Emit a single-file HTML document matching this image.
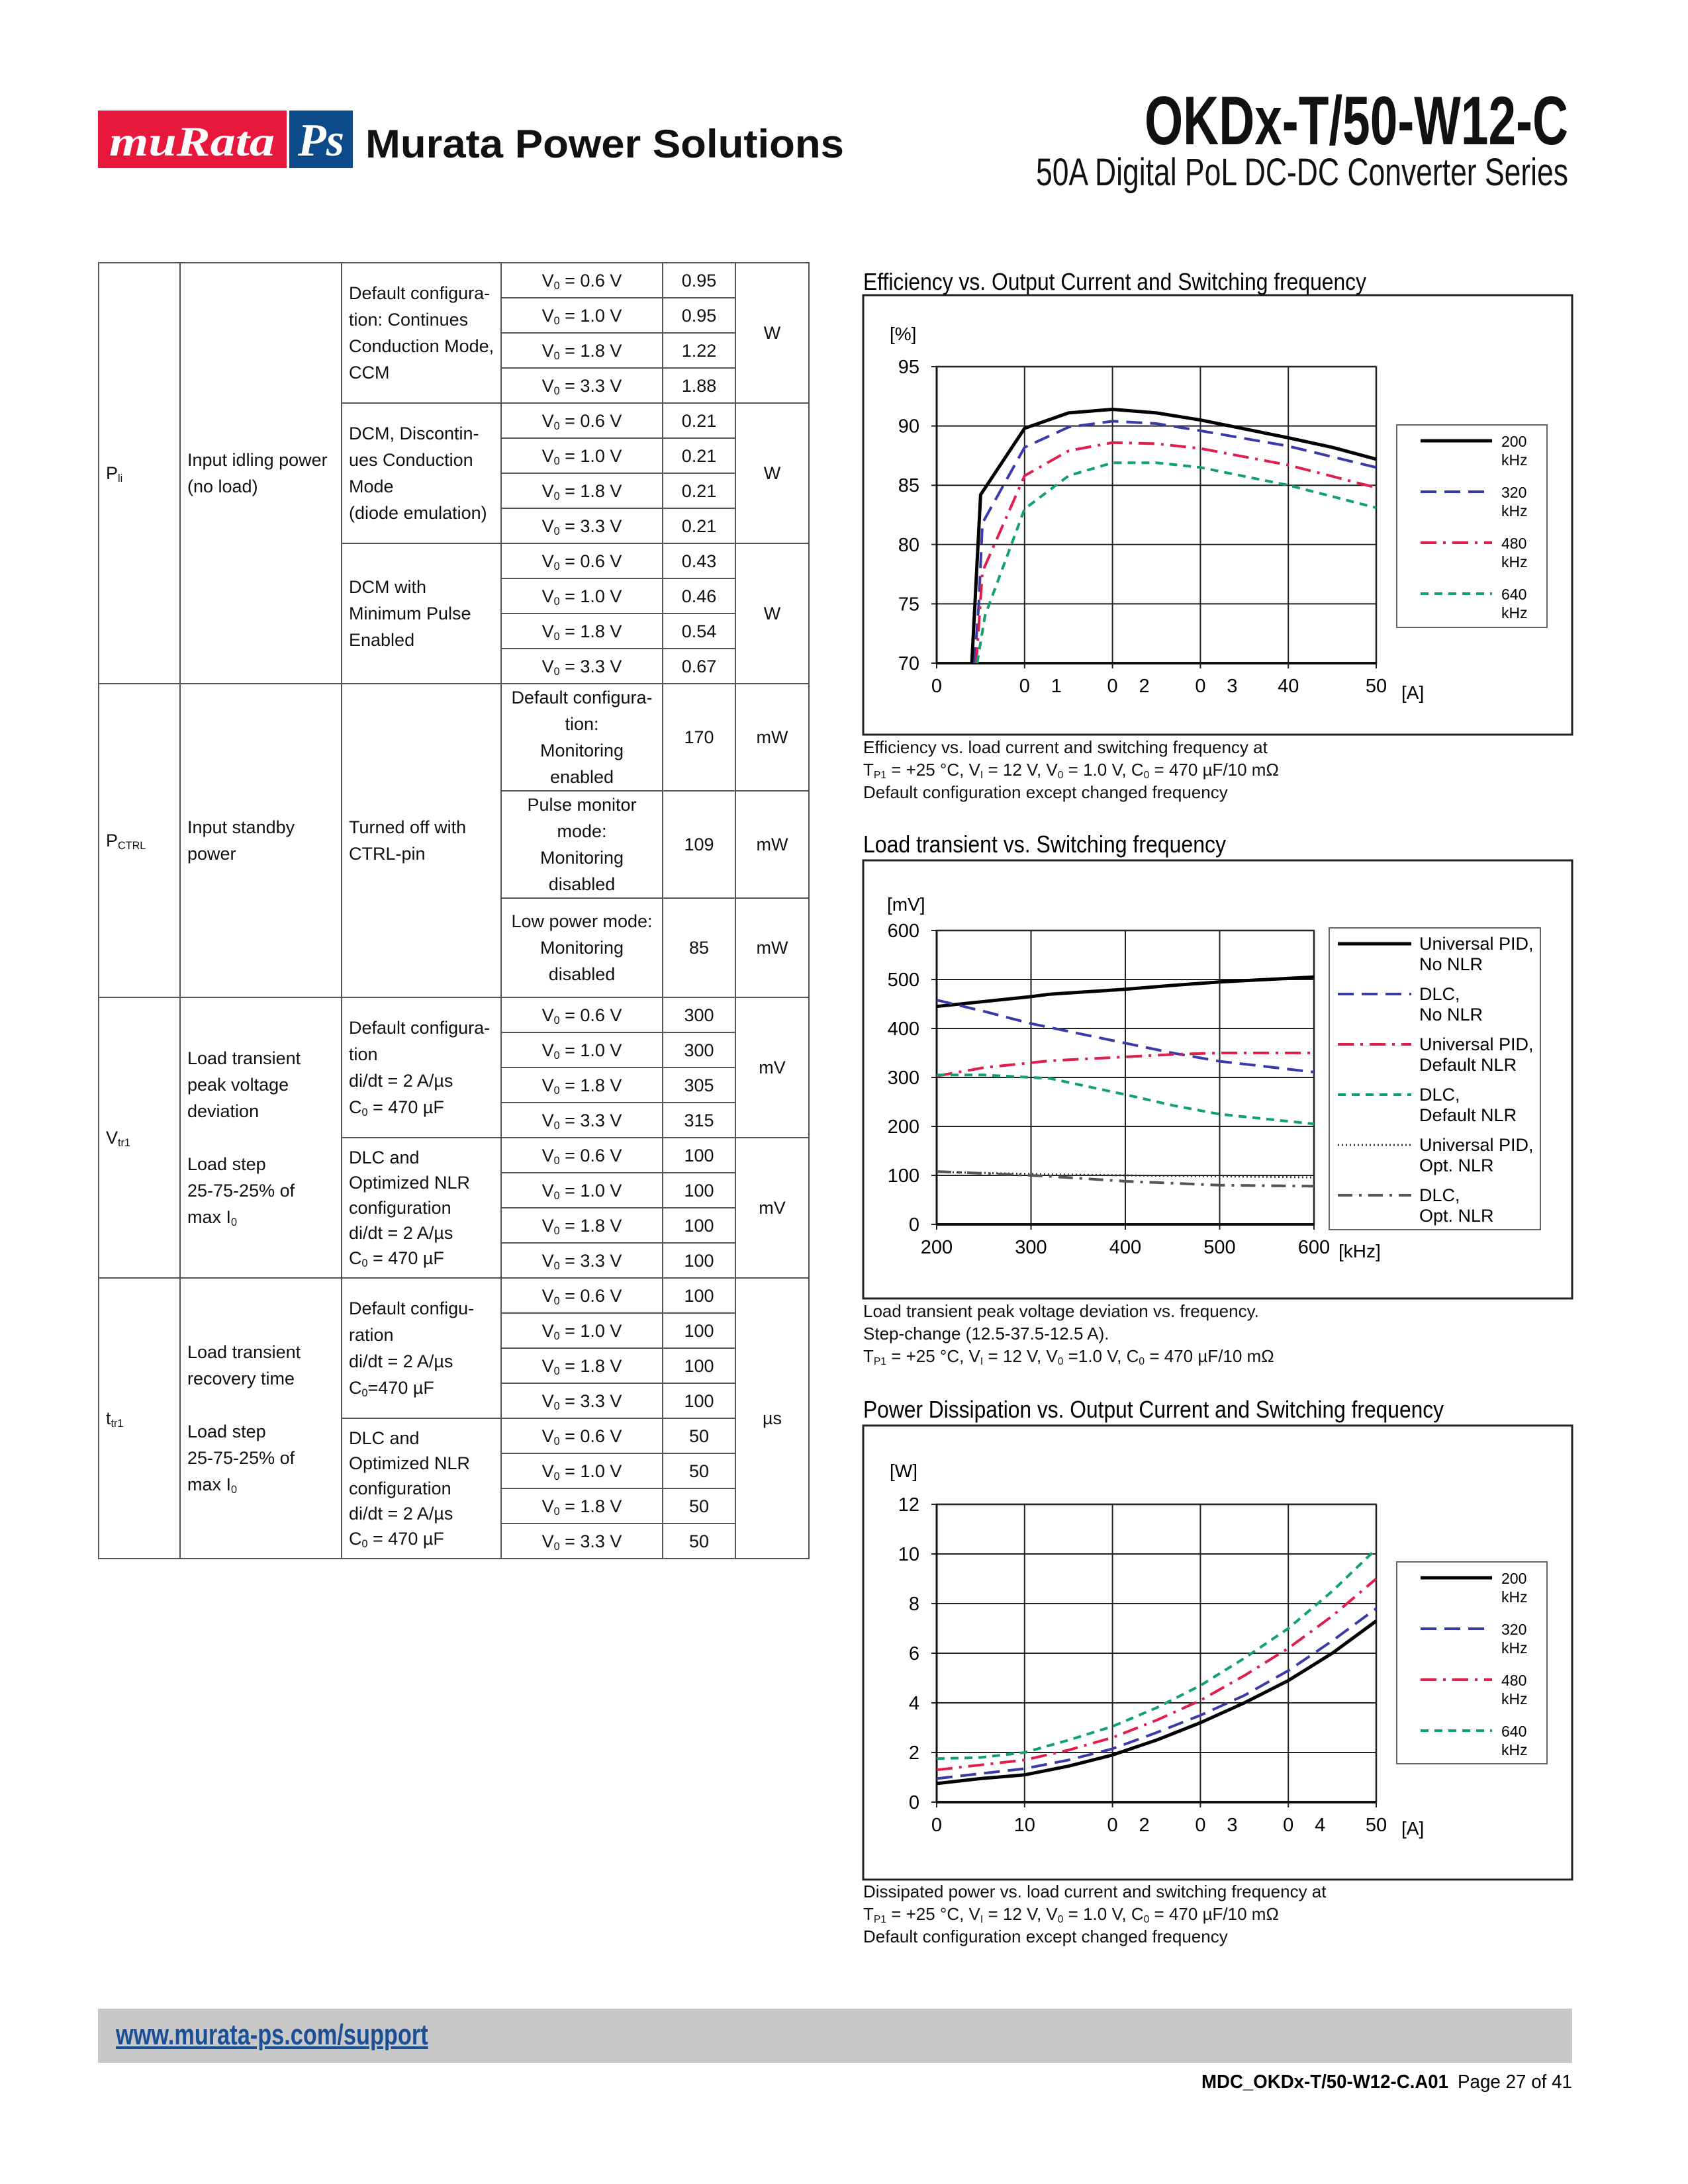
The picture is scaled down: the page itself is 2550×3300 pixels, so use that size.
<!DOCTYPE html>
<html><head><meta charset="utf-8">
<style>
body{margin:0;background:#fff;}
#page{position:relative;width:2550px;height:3300px;overflow:hidden;background:#fff;font-family:"Liberation Sans Narrow","Liberation Sans",sans-serif;color:#111;}
table.spec{position:absolute;left:148px;top:396px;width:1073px;border-collapse:collapse;table-layout:fixed;font-size:27px;}
table.spec td{border:2px solid #555;padding:0 10px;white-space:nowrap;line-height:40px;vertical-align:middle;}
table.spec tr.s td{height:51px;}
table.spec td.c{text-align:center;padding:0;}
sub{font-size:60%;vertical-align:-4px;line-height:0;}
.cap{position:absolute;left:1304px;font-size:26px;line-height:34px;white-space:nowrap;}
</style></head>
<body>
<div id="page">
<svg width="2550" height="3300" style="position:absolute;left:0;top:0">
  <g>
    <rect x="148" y="167" width="285" height="87" fill="#e8183c"/>
    <rect x="437" y="167" width="96" height="87" fill="#0d4a8a"/>
    <text x="290" y="235" fill="#fff" font-family="Liberation Serif" font-style="italic" font-weight="bold" font-size="64" text-anchor="middle" textLength="250" lengthAdjust="spacingAndGlyphs">muRata</text>
    <text x="485" y="235" fill="#fff" font-family="Liberation Serif" font-style="italic" font-weight="bold" font-size="70" text-anchor="middle">Ps</text>
  </g>
  <text x="552" y="238" font-family="Liberation Sans" font-weight="bold" font-size="60" textLength="723" lengthAdjust="spacingAndGlyphs" fill="#111">Murata Power Solutions</text>
  <text x="2369" y="218" font-family="Liberation Sans" font-weight="bold" font-size="104" text-anchor="end" textLength="640" lengthAdjust="spacingAndGlyphs" fill="#111">OKDx-T/50-W12-C</text>
  <text x="2369" y="280" font-family="Liberation Sans" font-size="58" text-anchor="end" textLength="804" lengthAdjust="spacingAndGlyphs" fill="#111">50A Digital PoL DC-DC Converter Series</text>

  <text x="1304" y="438" font-family="Liberation Sans" font-size="36" textLength="760" lengthAdjust="spacingAndGlyphs">Efficiency vs. Output Current and Switching frequency</text>
  <text x="1304" y="1288" font-family="Liberation Sans" font-size="36" textLength="548" lengthAdjust="spacingAndGlyphs">Load transient vs. Switching frequency</text>
  <text x="1304" y="2142" font-family="Liberation Sans" font-size="36" textLength="877" lengthAdjust="spacingAndGlyphs">Power Dissipation vs. Output Current and Switching frequency</text>
  <g id="charts"></g>

  <rect x="148" y="3035" width="2227" height="82" fill="#c8c8c8"/>
  <text x="2188" y="3155" font-family="Liberation Sans" font-weight="bold" font-size="29" text-anchor="end" textLength="373" lengthAdjust="spacingAndGlyphs">MDC_OKDx-T/50-W12-C.A01</text>
  <text x="2375" y="3155" font-family="Liberation Sans" font-size="29" text-anchor="end" textLength="173" lengthAdjust="spacingAndGlyphs">Page 27 of 41</text>
</svg>
<a href="#" style="position:absolute;left:175px;top:3050px;font-family:'Liberation Sans';font-weight:bold;font-size:44px;color:#1a4f95;text-decoration:underline;display:inline-block;transform:scaleX(0.78);transform-origin:left;white-space:nowrap;">www.murata-ps.com/support</a>

<table class="spec">
<colgroup><col style="width:123px"><col style="width:244px"><col style="width:241px"><col style="width:244px"><col style="width:110px"><col style="width:111px"></colgroup>
<tr class="s"><td rowspan="12">P<sub>li</sub></td><td rowspan="12">Input idling power<br>(no load)</td><td rowspan="4">Default configura-<br>tion: Continues<br>Conduction Mode,<br>CCM</td><td class="c">V<sub>0</sub> = 0.6 V</td><td class="c">0.95</td><td class="c" rowspan="4">W</td></tr>
<tr class="s"><td class="c">V<sub>0</sub> = 1.0 V</td><td class="c">0.95</td></tr>
<tr class="s"><td class="c">V<sub>0</sub> = 1.8 V</td><td class="c">1.22</td></tr>
<tr class="s"><td class="c">V<sub>0</sub> = 3.3 V</td><td class="c">1.88</td></tr>
<tr class="s"><td rowspan="4">DCM, Discontin-<br>ues Conduction<br>Mode<br>(diode emulation)</td><td class="c">V<sub>0</sub> = 0.6 V</td><td class="c">0.21</td><td class="c" rowspan="4">W</td></tr>
<tr class="s"><td class="c">V<sub>0</sub> = 1.0 V</td><td class="c">0.21</td></tr>
<tr class="s"><td class="c">V<sub>0</sub> = 1.8 V</td><td class="c">0.21</td></tr>
<tr class="s"><td class="c">V<sub>0</sub> = 3.3 V</td><td class="c">0.21</td></tr>
<tr class="s"><td rowspan="4">DCM with<br>Minimum Pulse<br>Enabled</td><td class="c">V<sub>0</sub> = 0.6 V</td><td class="c">0.43</td><td class="c" rowspan="4">W</td></tr>
<tr class="s"><td class="c">V<sub>0</sub> = 1.0 V</td><td class="c">0.46</td></tr>
<tr class="s"><td class="c">V<sub>0</sub> = 1.8 V</td><td class="c">0.54</td></tr>
<tr class="s"><td class="c">V<sub>0</sub> = 3.3 V</td><td class="c">0.67</td></tr>
<tr style="height:158px"><td rowspan="3">P<sub>CTRL</sub></td><td rowspan="3">Input standby<br>power</td><td rowspan="3">Turned off with<br>CTRL-pin</td><td class="c">Default configura-<br>tion:<br>Monitoring<br>enabled</td><td class="c">170</td><td class="c">mW</td></tr>
<tr style="height:160px"><td class="c">Pulse monitor<br>mode:<br>Monitoring<br>disabled</td><td class="c">109</td><td class="c">mW</td></tr>
<tr style="height:150px"><td class="c">Low power mode:<br>Monitoring<br>disabled</td><td class="c">85</td><td class="c">mW</td></tr>
<tr class="s"><td rowspan="8">V<sub>tr1</sub></td><td rowspan="8">Load transient<br>peak voltage<br>deviation<br><br>Load step<br>25-75-25% of<br>max I<sub>0</sub></td><td rowspan="4">Default configura-<br>tion<br>di/dt = 2 A/µs<br>C<sub>0</sub> = 470 µF</td><td class="c">V<sub>0</sub> = 0.6 V</td><td class="c">300</td><td class="c" rowspan="4">mV</td></tr>
<tr class="s"><td class="c">V<sub>0</sub> = 1.0 V</td><td class="c">300</td></tr>
<tr class="s"><td class="c">V<sub>0</sub> = 1.8 V</td><td class="c">305</td></tr>
<tr class="s"><td class="c">V<sub>0</sub> = 3.3 V</td><td class="c">315</td></tr>
<tr class="s"><td rowspan="4" style="line-height:38px">DLC and<br>Optimized NLR<br>configuration<br>di/dt = 2 A/µs<br>C<sub>0</sub> = 470 µF</td><td class="c">V<sub>0</sub> = 0.6 V</td><td class="c">100</td><td class="c" rowspan="4">mV</td></tr>
<tr class="s"><td class="c">V<sub>0</sub> = 1.0 V</td><td class="c">100</td></tr>
<tr class="s"><td class="c">V<sub>0</sub> = 1.8 V</td><td class="c">100</td></tr>
<tr class="s"><td class="c">V<sub>0</sub> = 3.3 V</td><td class="c">100</td></tr>
<tr class="s"><td rowspan="8">t<sub>tr1</sub></td><td rowspan="8">Load transient<br>recovery time<br><br>Load step<br>25-75-25% of<br>max I<sub>0</sub></td><td rowspan="4">Default configu-<br>ration<br>di/dt = 2 A/µs<br>C<sub>0</sub>=470 µF</td><td class="c">V<sub>0</sub> = 0.6 V</td><td class="c">100</td><td class="c" rowspan="8">µs</td></tr>
<tr class="s"><td class="c">V<sub>0</sub> = 1.0 V</td><td class="c">100</td></tr>
<tr class="s"><td class="c">V<sub>0</sub> = 1.8 V</td><td class="c">100</td></tr>
<tr class="s"><td class="c">V<sub>0</sub> = 3.3 V</td><td class="c">100</td></tr>
<tr class="s"><td rowspan="4" style="line-height:38px">DLC and<br>Optimized NLR<br>configuration<br>di/dt = 2 A/µs<br>C<sub>0</sub> = 470 µF</td><td class="c">V<sub>0</sub> = 0.6 V</td><td class="c">50</td></tr>
<tr class="s"><td class="c">V<sub>0</sub> = 1.0 V</td><td class="c">50</td></tr>
<tr class="s"><td class="c">V<sub>0</sub> = 1.8 V</td><td class="c">50</td></tr>
<tr class="s"><td class="c">V<sub>0</sub> = 3.3 V</td><td class="c">50</td></tr>
</table>

<div class="cap" style="top:1112px">Efficiency vs. load current and switching frequency at<br>T<sub>P1</sub> = +25 °C, V<sub>I</sub> = 12 V, V<sub>0</sub> = 1.0 V, C<sub>0</sub> = 470 µF/10 mΩ<br>Default configuration except changed frequency</div>
<div class="cap" style="top:1964px">Load transient peak voltage deviation vs. frequency.<br>Step-change (12.5-37.5-12.5 A).<br>T<sub>P1</sub> = +25 °C, V<sub>I</sub> = 12 V, V<sub>0</sub> =1.0 V, C<sub>0</sub> = 470 µF/10 mΩ</div>
<div class="cap" style="top:2841px">Dissipated power vs. load current and switching frequency at<br>T<sub>P1</sub> = +25 °C, V<sub>I</sub> = 12 V, V<sub>0</sub> = 1.0 V, C<sub>0</sub> = 470 µF/10 mΩ<br>Default configuration except changed frequency</div>
</div>

<script>
// ---- Chart 1: efficiency ----
const effX200 = [4, 5, 10, 15, 20, 25, 30, 40, 45, 50];
const effY200 = [70, 84.2, 89.8, 91.1, 91.4, 91.1, 90.5, 89, 88.2, 87.2];
const effX320 = [4.3, 4.8, 5.2, 10, 15, 20, 25, 30, 40, 50];
const effY320 = [70, 75, 81.8, 88.2, 89.9, 90.4, 90.2, 89.6, 88.3, 86.5];
const effX480 = [4.5, 5.2, 10, 15, 20, 25, 30, 40, 50];
const effY480 = [70, 77.7, 85.8, 87.9, 88.6, 88.5, 88.1, 86.7, 84.8];
const effX640 = [4.6, 5.5, 10, 15, 20, 25, 30, 40, 50];
const effY640 = [70, 74, 83, 85.8, 86.9, 86.9, 86.5, 85, 83.1];
const effYTicks = [70, 75, 80, 85, 90, 95];
const effXTicks = [0, 10, 20, 30, 40, 50];
const effXTickLabels = ["0", "0|1", "0|2", "0|3", "40", "50"];
// ---- Chart 2: load transient ----
const ltFreq = [200, 250, 300, 320, 400, 450, 500, 600];
const ltPidNo = [445, 455, 465, 470, 480, 488, 495, 505];
const ltDlcNo = [458, 435, 410, 402, 370, 350, 333, 311];
const ltPidDef = [303, 320, 330, 334, 342, 347, 350, 350];
const ltDlcDef = [305, 305, 300, 298, 265, 243, 225, 205];
const ltPidOpt = [107, 105, 103, 102, 100, 99, 98, 96];
const ltDlcOpt = [108, 104, 100, 98, 88, 84, 80, 78];
const ltYTicks = [0, 100, 200, 300, 400, 500, 600];
const ltXTicks = [200, 300, 400, 500, 600];
const ltXTickLabels = ["200", "300", "400", "500", "600"];
// ---- Chart 3: power dissipation ----
const pdX = [0, 5, 10, 15, 20, 25, 30, 35, 40, 45, 50];
const pd200 = [0.75, 0.95, 1.1, 1.45, 1.9, 2.5, 3.2, 4.0, 4.9, 6.0, 7.3];
const pd320 = [0.95, 1.15, 1.35, 1.7, 2.15, 2.8, 3.5, 4.3, 5.3, 6.5, 7.8];
const pd480 = [1.3, 1.5, 1.7, 2.1, 2.6, 3.3, 4.1, 5.1, 6.2, 7.5, 9.0];
const pd640 = [1.75, 1.8, 2.0, 2.5, 3.05, 3.8, 4.7, 5.8, 7.0, 8.5, 10.2];
const pdYTicks = [0, 2, 4, 6, 8, 10, 12];
const pdXTicks = [0, 10, 20, 30, 40, 50];
const pdXTickLabels = ["0", "10", "0|2", "0|3", "0|4", "50"];

const NS = "http://www.w3.org/2000/svg";
const root = document.getElementById("charts");
function mk(tag, attrs, parent) {
  const e = document.createElementNS(NS, tag);
  for (const k in attrs) e.setAttribute(k, attrs[k]);
  (parent || root).appendChild(e);
  return e;
}
const STY = {
  s200: {stroke: "#000", dash: "none", w: 5},
  s320: {stroke: "#3a3aa8", dash: "24,12", w: 4},
  s480: {stroke: "#e01e4c", dash: "24,10,4,10", w: 4},
  s640: {stroke: "#12a070", dash: "12,9", w: 4},
  dot: {stroke: "#333", dash: "2,4", w: 3},
  gdd: {stroke: "#555", dash: "22,10,4,10", w: 4}
};

function chart(cfg) {
  const g = mk("g", {});
  
  
  const box = mk("rect", {x: cfg.box[0], y: cfg.box[1], width: cfg.box[2], height: cfg.box[3], fill: "none", stroke: "#222", "stroke-width": 3}, g);
  
  
  const [L, T, R, B] = cfg.plot;
  const sx = v => L + (v - cfg.xr[0]) / (cfg.xr[1] - cfg.xr[0]) * (R - L);
  const sy = v => B - (v - cfg.yr[0]) / (cfg.yr[1] - cfg.yr[0]) * (B - T);
  mk("rect", {x: L, y: T, width: R - L, height: B - T, fill: "none", stroke: "#888", "stroke-width": 3}, g);
  cfg.yTicks.forEach(v => {
    const ln = mk("line", {x1: L - 8, x2: R, y1: sy(v), y2: sy(v), stroke: "#222", "stroke-width": 2}, g);
    
    
    const t = mk("text", {x: L - 26, y: sy(v) + 10, "text-anchor": "end", "font-size": 29, "font-family": "Liberation Sans"}, g);
    
    
    t.textContent = v;
  });
  cfg.xTicks.forEach((v, i) => {
    const ln = mk("line", {x1: sx(v), x2: sx(v), y1: T, y2: B + 8, stroke: "#222", "stroke-width": 2}, g);
    
    
    const parts = cfg.xLabels[i].split("|");
    const t = mk("text", {x: sx(v), y: B + 44, "text-anchor": "middle", "font-size": 29, "font-family": "Liberation Sans"}, g);
    
    
    t.textContent = parts[0];
    if (parts[1]) {
      const t2 = mk("text", {x: sx(v) + 48, y: B + 44, "text-anchor": "middle", "font-size": 29, "font-family": "Liberation Sans"}, g);
      
      
      t2.textContent = parts[1];
    }
  });
  mk("line", {x1: L, x2: R, y1: B, y2: B, stroke: "#111", "stroke-width": 4}, g);
  mk("line", {x1: L, x2: L, y1: T, y2: B, stroke: "#111", "stroke-width": 3}, g);
  const u = mk("text", {x: cfg.unitY[0], y: cfg.unitY[1], "font-size": 28, "font-family": "Liberation Sans"}, g);
  
  
  u.textContent = cfg.unitYText;
  const ux = mk("text", {x: cfg.unitX[0], y: cfg.unitX[1], "font-size": 28, "font-family": "Liberation Sans"}, g);
  
  
  ux.textContent = cfg.unitXText;
  cfg.series.forEach(s => {
    const st = STY[s.style];
    const d = s.x.map((xv, i) => (i ? "L" : "M") + sx(xv).toFixed(1) + "," + sy(s.y[i]).toFixed(1)).join(" ");
    const p = mk("path", {d: d, fill: "none", stroke: st.stroke, "stroke-width": st.w, "stroke-dasharray": st.dash, "stroke-linejoin": "round"}, g);
    
    
  });
  const [lx, ly, lw, lh] = cfg.legend;
  const lb = mk("rect", {x: lx, y: ly, width: lw, height: lh, fill: "#fff", stroke: "#666", "stroke-width": 2}, g);
  
  
  cfg.series.forEach((s, i) => {
    const st = STY[s.style];
    const yy = ly + cfg.legFirst + i * cfg.legStep;
    const ln = mk("line", {x1: lx + cfg.legLine[0], x2: lx + cfg.legLine[1], y1: yy, y2: yy, stroke: st.stroke, "stroke-width": st.w, "stroke-dasharray": st.dash}, g);
    
    
    s.label.forEach((lt, j) => {
      const t = mk("text", {x: lx + cfg.legText, y: yy + 9 + j * cfg.legLH, "font-size": cfg.legFS, "font-family": "Liberation Sans"}, g);
      
      
      t.textContent = lt;
    });
  });
}

chart({name: "efficiency-chart", box: [1304, 446, 1071, 664], plot: [1415, 554, 2079, 1002], xr: [0, 50], yr: [70, 95],
  yTicks: effYTicks, xTicks: effXTicks, xLabels: effXTickLabels,
  unitY: [1344, 514], unitYText: "[%]", unitX: [2117, 1056], unitXText: "[A]",
  legend: [2110, 642, 227, 306], legFirst: 24, legStep: 77, legLine: [36, 144], legText: 158, legFS: 23, legLH: 28,
  series: [
    {name: "line-200khz", style: "s200", x: effX200, y: effY200, label: ["200", "kHz"]},
    {name: "line-320khz", style: "s320", x: effX320, y: effY320, label: ["320", "kHz"]},
    {name: "line-480khz", style: "s480", x: effX480, y: effY480, label: ["480", "kHz"]},
    {name: "line-640khz", style: "s640", x: effX640, y: effY640, label: ["640", "kHz"]}
  ]});

chart({name: "load-transient-chart", box: [1304, 1300, 1071, 662], plot: [1415, 1406, 1985, 1850], xr: [200, 600], yr: [0, 600],
  yTicks: ltYTicks, xTicks: ltXTicks, xLabels: ltXTickLabels,
  unitY: [1340, 1376], unitYText: "[mV]", unitX: [2022, 1900], unitXText: "[kHz]",
  legend: [2008, 1402, 319, 456], legFirst: 24, legStep: 76, legLine: [13, 124], legText: 136, legFS: 27, legLH: 31,
  series: [
    {name: "line-universal-pid-no-nlr", style: "s200", x: ltFreq, y: ltPidNo, label: ["Universal PID,", "No NLR"]},
    {name: "line-dlc-no-nlr", style: "s320", x: ltFreq, y: ltDlcNo, label: ["DLC,", "No NLR"]},
    {name: "line-universal-pid-default-nlr", style: "s480", x: ltFreq, y: ltPidDef, label: ["Universal PID,", "Default NLR"]},
    {name: "line-dlc-default-nlr", style: "s640", x: ltFreq, y: ltDlcDef, label: ["DLC,", "Default NLR"]},
    {name: "line-universal-pid-opt-nlr", style: "dot", x: ltFreq, y: ltPidOpt, label: ["Universal PID,", "Opt. NLR"]},
    {name: "line-dlc-opt-nlr", style: "gdd", x: ltFreq, y: ltDlcOpt, label: ["DLC,", "Opt. NLR"]}
  ]});

chart({name: "power-dissipation-chart", box: [1304, 2154, 1071, 686], plot: [1415, 2273, 2079, 2723], xr: [0, 50], yr: [0, 12],
  yTicks: pdYTicks, xTicks: pdXTicks, xLabels: pdXTickLabels,
  unitY: [1344, 2232], unitYText: "[W]", unitX: [2117, 2772], unitXText: "[A]",
  legend: [2110, 2360, 227, 305], legFirst: 24, legStep: 77, legLine: [36, 144], legText: 158, legFS: 23, legLH: 28,
  series: [
    {name: "line-200khz", style: "s200", x: pdX, y: pd200, label: ["200", "kHz"]},
    {name: "line-320khz", style: "s320", x: pdX, y: pd320, label: ["320", "kHz"]},
    {name: "line-480khz", style: "s480", x: pdX, y: pd480, label: ["480", "kHz"]},
    {name: "line-640khz", style: "s640", x: pdX, y: pd640, label: ["640", "kHz"]}
  ]});
</script>
</body></html>
